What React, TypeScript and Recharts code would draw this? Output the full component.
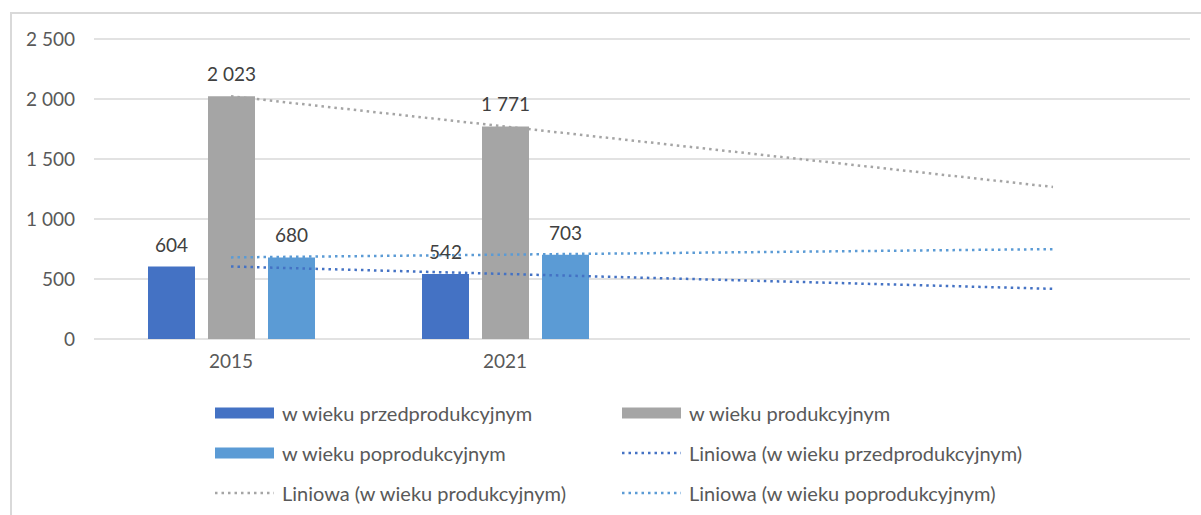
import { ComposedChart, Bar, Line, XAxis, YAxis, CartesianGrid, LabelList } from 'recharts';

// categories (two extra empty slots for the trendline forecast)
const years = ['2015', '2021', '', ''];
const przedprodukcyjny = [604, 542, null, null];
const produkcyjny = [2023, 1771, null, null];
const poprodukcyjny = [680, 703, null, null];
// linear trendlines
const trendPrzed = [604, 542, 480, 418];
const trendProd = [2023, 1771, 1519, 1267];
const trendPopr = [680, 703, 726, 749];
const yTicks = [0, 500, 1000, 1500, 2000, 2500];

const DARK_BLUE = '#4472C4';
const GRAY = '#A5A5A5';
const LIGHT_BLUE = '#5B9BD5';
const FONT = 'Lato, "Open Sans", sans-serif';

const data = years.map((year, i) => ({
  year,
  przed: przedprodukcyjny[i],
  prod: produkcyjny[i],
  popr: poprodukcyjny[i],
  tPrzed: trendPrzed[i],
  tProd: trendProd[i],
  tPopr: trendPopr[i],
}));

// "2 500" style with space as thousands separator
const fmt = (v: any) => {
  if (v === null || v === undefined) return '';
  return String(v).replace(/\B(?=(\d{3})+(?!\d))/g, ' ');
};

const legendItems = [
  { label: 'w wieku przedprodukcyjnym', color: DARK_BLUE, dotted: false, x: 215, y: 413 },
  { label: 'w wieku produkcyjnym', color: GRAY, dotted: false, x: 622, y: 413 },
  { label: 'w wieku poprodukcyjnym', color: LIGHT_BLUE, dotted: false, x: 215, y: 453 },
  { label: 'Liniowa (w wieku przedprodukcyjnym)', color: DARK_BLUE, dotted: true, x: 622, y: 453 },
  { label: 'Liniowa (w wieku produkcyjnym)', color: GRAY, dotted: true, x: 215, y: 493 },
  { label: 'Liniowa (w wieku poprodukcyjnym)', color: LIGHT_BLUE, dotted: true, x: 622, y: 493 },
];

function LegendBox() {
  return (
    <>
      {legendItems.map((item) => (
        <div
          key={item.label}
          style={{
            position: 'absolute',
            left: item.x,
            top: item.y - 13,
            height: 26,
            display: 'flex',
            alignItems: 'center',
            fontFamily: FONT,
            fontSize: 20,
            color: '#595959',
            whiteSpace: 'nowrap',
          }}
        >
          <svg width={59} height={12} style={{ marginRight: 8 }}>
            {item.dotted ? (
              <line x1={0} y1={6} x2={59} y2={6} stroke={item.color} strokeWidth={2.5} strokeDasharray="2.5 4" />
            ) : (
              <rect x={0} y={0.5} width={59} height={11} fill={item.color} />
            )}
          </svg>
          {item.label}
        </div>
      ))}
    </>
  );
}

export default function App() {
  return (
    <div style={{ position: 'absolute', left: 0, top: 0, width: 1201, height: 515, overflow: 'hidden', background: '#fff' }}>
      <div
        style={{
          position: 'absolute',
          left: 10,
          top: 12,
          width: 1200,
          height: 520,
          border: '2px solid #d9d9d9',
          boxSizing: 'border-box',
        }}
      />
      <div style={{ position: 'absolute', left: 0, top: 0 }}>
        <ComposedChart
          width={1201}
          height={515}
          data={data}
          margin={{ top: 39, right: 11, left: 0, bottom: 146 }}
          barSize={47}
          barGap={13}
        >
          <CartesianGrid vertical={false} stroke="#d9d9d9" strokeWidth={1.5} />
          <XAxis
            dataKey="year"
            axisLine={false}
            tickLine={false}
            height={30}
            tickMargin={10}
            tick={{ fill: '#595959', fontSize: 19, fontFamily: FONT }}
          />
          <YAxis
            width={94}
            domain={[0, 2500]}
            ticks={yTicks}
            axisLine={false}
            tickLine={false}
            tickMargin={13}
            tickFormatter={fmt}
            tick={{ fill: '#595959', fontSize: 19, fontFamily: FONT }}
          />
          <Bar dataKey="przed" fill={DARK_BLUE} isAnimationActive={false}>
            <LabelList dataKey="przed" position="top" offset={15} formatter={fmt} fill="#404040" fontSize={19} fontFamily={FONT} />
          </Bar>
          <Bar dataKey="prod" fill={GRAY} isAnimationActive={false}>
            <LabelList dataKey="prod" position="top" offset={15} formatter={fmt} fill="#404040" fontSize={19} fontFamily={FONT} />
          </Bar>
          <Bar dataKey="popr" fill={LIGHT_BLUE} isAnimationActive={false}>
            <LabelList dataKey="popr" position="top" offset={15} formatter={fmt} fill="#404040" fontSize={19} fontFamily={FONT} />
          </Bar>
          <Line dataKey="tPrzed" stroke={DARK_BLUE} strokeWidth={2.5} strokeDasharray="2.5 4" dot={false} activeDot={false} type="linear" isAnimationActive={false} />
          <Line dataKey="tProd" stroke={GRAY} strokeWidth={2.5} strokeDasharray="2.5 4" dot={false} activeDot={false} type="linear" isAnimationActive={false} />
          <Line dataKey="tPopr" stroke={LIGHT_BLUE} strokeWidth={2.5} strokeDasharray="2.5 4" dot={false} activeDot={false} type="linear" isAnimationActive={false} />
        </ComposedChart>
      </div>
      <LegendBox />
    </div>
  );
}
